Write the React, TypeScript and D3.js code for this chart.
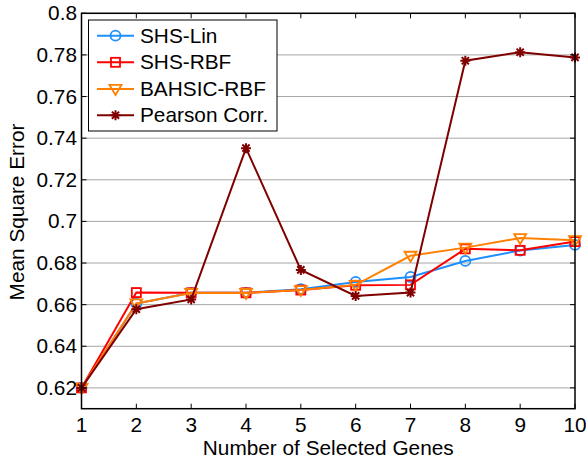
import React from "react";
import * as d3 from "d3";

const genes = [1, 2, 3, 4, 5, 6, 7, 8, 9, 10];
const shsLin = [0.62, 0.6605, 0.6657, 0.6657, 0.6674, 0.6709, 0.6733, 0.681, 0.686, 0.6887];
const shsRbf = [0.62, 0.6658, 0.6657, 0.6657, 0.667, 0.6693, 0.6695, 0.6868, 0.6861, 0.6903];
const bahsicRbf = [0.62, 0.6606, 0.6656, 0.6656, 0.667, 0.6695, 0.6835, 0.6874, 0.692, 0.691];
const pearson = [0.62, 0.6578, 0.6625, 0.7352, 0.6767, 0.6642, 0.6658, 0.7772, 0.7813, 0.7788];
const yTicks = [0.62, 0.64, 0.66, 0.68, 0.7, 0.72, 0.74, 0.76, 0.78, 0.8];
const seriesNames = ["SHS-Lin", "SHS-RBF", "BAHSIC-RBF", "Pearson Corr."];

const W = 586, H = 462;
const L = 81.5, R = 575, T = 13.3, B = 408.7;
const FONT = "'Liberation Sans', Arial, Helvetica, sans-serif";
const FS = 20.8;

const x = d3.scaleLinear().domain([1, 10]).range([L, R]);
const y = d3.scaleLinear().domain([0.61, 0.8]).range([B, T]);

type Series = { name: string; values: number[]; color: string; marker: string };
const series: Series[] = [
  { name: seriesNames[0], values: shsLin, color: "#1e8fff", marker: "circle" },
  { name: seriesNames[1], values: shsRbf, color: "#ff0000", marker: "square" },
  { name: seriesNames[2], values: bahsicRbf, color: "#ff8000", marker: "triangle" },
  { name: seriesNames[3], values: pearson, color: "#800000", marker: "star" },
];

function Marker({ kind, cx, cy, color }: { kind: string; cx: number; cy: number; color: string }) {
  if (kind === "circle")
    return <circle cx={cx} cy={cy} r={5} fill="none" stroke={color} strokeWidth={1.8} />;
  if (kind === "square")
    return <rect x={cx - 4.5} y={cy - 4.5} width={9} height={9} fill="none" stroke={color} strokeWidth={1.8} />;
  if (kind === "triangle") {
    const p = `M${cx - 6},${cy - 4} L${cx + 6},${cy - 4} L${cx},${cy + 6} Z`;
    return <path d={p} fill="none" stroke={color} strokeWidth={1.8} />;
  }
  const s = 5, d = 3.6;
  const p = `M${cx - s},${cy} L${cx + s},${cy} M${cx},${cy - s} L${cx},${cy + s} M${cx - d},${cy - d} L${cx + d},${cy + d} M${cx - d},${cy + d} L${cx + d},${cy - d}`;
  return <path d={p} fill="none" stroke={color} strokeWidth={2} />;
}

export default function App() {
  const line = d3
    .line<number>()
    .x((_, i) => x(genes[i]))
    .y((v) => y(v));
  const legendRows = [35.7, 62.3, 88.9, 115.2];
  return (
    <svg width={W} height={H} style={{ position: "absolute", left: 0, top: 0 }} fontFamily={FONT}>
      <rect x={0} y={0} width={W} height={H} fill="#fff" />
      {yTicks.map((t) => (
        <line key={"g" + t} x1={L} x2={R} y1={y(t)} y2={y(t)} stroke="#a6a6a6" strokeWidth={1} />
      ))}
      {series.map((s) => (
        <g key={s.name}>
          <path d={line(s.values) || ""} fill="none" stroke={s.color} strokeWidth={2} />
          {s.values.map((v, i) => (
            <Marker key={i} kind={s.marker} cx={x(genes[i])} cy={y(v)} color={s.color} />
          ))}
        </g>
      ))}
      <rect x={L} y={T} width={R - L} height={B - T} fill="none" stroke="#000" strokeWidth={1.5} />
      {genes.map((g) => (
        <g key={"xt" + g}>
          <line x1={x(g)} x2={x(g)} y1={B} y2={B - 5} stroke="#000" strokeWidth={1} />
          <line x1={x(g)} x2={x(g)} y1={T} y2={T + 5} stroke="#000" strokeWidth={1} />
          <text x={x(g)} y={432} fontSize={FS} textAnchor="middle" fill="#000">
            {g}
          </text>
        </g>
      ))}
      {yTicks.map((t) => (
        <g key={"yt" + t}>
          <line x1={L} x2={L + 5} y1={y(t)} y2={y(t)} stroke="#000" strokeWidth={1} />
          <line x1={R} x2={R - 5} y1={y(t)} y2={y(t)} stroke="#000" strokeWidth={1} />
          <text x={77} y={y(t) + 7} fontSize={FS} textAnchor="end" fill="#000">
            {d3.format("~g")(t)}
          </text>
        </g>
      ))}
      <text x={(L + R) / 2} y={455} fontSize={FS} textAnchor="middle" fill="#000">
        Number of Selected Genes
      </text>
      <text
        transform={`translate(24,${(T + B) / 2 + 1}) rotate(-90)`}
        fontSize={FS}
        textAnchor="middle"
        fill="#000"
      >
        Mean Square Error
      </text>
      <rect x={88.5} y={20} width={188.5} height={111} fill="#fff" stroke="#000" strokeWidth={1} />
      {series.map((s, i) => (
        <g key={"lg" + s.name}>
          <line x1={97} x2={134} y1={legendRows[i]} y2={legendRows[i]} stroke={s.color} strokeWidth={2} />
          <Marker kind={s.marker} cx={115.5} cy={legendRows[i]} color={s.color} />
          <text x={140} y={legendRows[i] + 7} fontSize={FS} fill="#000">
            {s.name}
          </text>
        </g>
      ))}
    </svg>
  );
}
